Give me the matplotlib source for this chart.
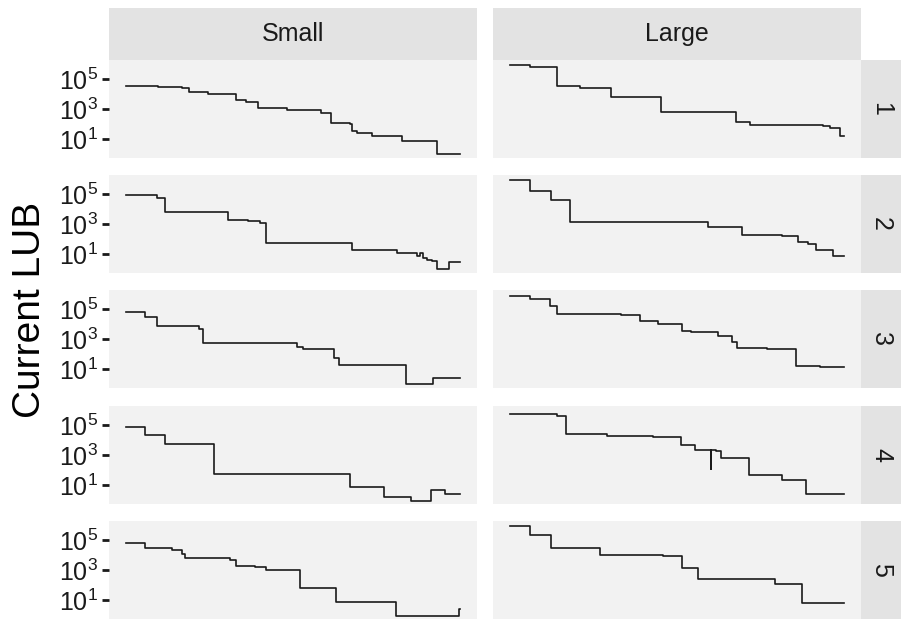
import numpy as np
import matplotlib
matplotlib.use('Agg')
import matplotlib.pyplot as plt

plt.rcParams['font.family'] = ['Liberation Sans', 'DejaVu Sans']
plt.rcParams['mathtext.default'] = 'regular'

# column / row facets
sizes = ["Small", "Large"]
runs = ["1", "2", "3", "4", "5"]

# step curves: x = progress (0..100), y = log10(current LUB)
small_1_x = [0, 9.5, 14, 16.8, 19, 24.5, 33, 36, 39.5, 48.2, 58.5, 61.3, 67, 67.5, 69, 73.5, 82.5, 93, 100]
small_1_y = [4.53, 4.49, 4.44, 4.37, 4.15, 3.99, 3.59, 3.44, 3.10, 2.92, 2.70, 2.09, 2.03, 1.51, 1.42, 1.20, 0.85, -0.03, -0.03]
large_1_x = [0, 6, 14, 21, 30.2, 45.2, 67.6, 71.8, 93.7, 95.7, 98.7, 100]
large_1_y = [5.94, 5.83, 4.53, 4.42, 3.82, 2.77, 2.12, 1.96, 1.85, 1.76, 1.22, 1.22]

small_2_x = [0, 9.2, 11.7, 30.5, 36.5, 40, 42, 67.5, 81.2, 87.2, 88, 89, 90, 91.5, 93, 96.5, 100]
small_2_y = [4.93, 4.75, 3.77, 3.30, 3.21, 3.10, 1.72, 1.27, 1.07, 0.85, 1.07, 0.76, 0.62, 0.53, -0.02, 0.49, 0.49]
large_2_x = [0, 6, 12.2, 18.1, 59.3, 69.5, 81.3, 86.2, 89.2, 91.4, 96.7, 100]
large_2_y = [5.94, 5.22, 4.60, 3.15, 2.77, 2.25, 2.21, 1.80, 1.69, 1.25, 0.84, 0.84]

small_3_x = [0, 5.8, 9.3, 22, 23, 51.3, 53, 62.3, 63.7, 83.7, 91.7, 100]
small_3_y = [4.82, 4.44, 3.88, 3.70, 2.70, 2.47, 2.32, 1.76, 1.25, -0.03, 0.42, 0.42]
large_3_x = [0, 6, 12, 14, 33.4, 38.9, 44.4, 51.5, 54.3, 62.3, 66.5, 68, 77, 85.7, 92.7, 100]
large_3_y = [5.89, 5.67, 5.22, 4.64, 4.60, 4.22, 3.97, 3.55, 3.48, 3.19, 2.77, 2.41, 2.36, 1.18, 1.14, 1.14]

small_4_x = [0, 5.8, 11.8, 26.3, 67, 77.2, 85.2, 91.2, 95.5, 100]
small_4_y = [4.89, 4.35, 3.75, 1.76, 0.89, 0.22, -0.05, 0.65, 0.42, 0.42]
large_4_x = [0, 14, 16.7, 29.1, 42.9, 51.1, 55.3, 60.3, 60.3, 61.8, 63.3, 71.5, 81.3, 88.5, 100]
large_4_y = [5.76, 5.60, 4.37, 4.28, 4.20, 3.70, 3.35, 2.09, 3.35, 3.26, 2.77, 1.65, 1.36, 0.40, 0.40]

small_5_x = [0, 5.8, 13.8, 16.8, 17.8, 31.2, 33, 38.5, 42, 45, 52.2, 62.8, 80.7, 99.5, 100]
small_5_y = [4.78, 4.49, 4.35, 4.04, 3.82, 3.66, 3.26, 3.19, 3.03, 2.97, 1.78, 0.87, -0.07, 0.42, 0.42]
large_5_x = [0, 6, 12.2, 26.9, 45.9, 51.6, 56.3, 79.3, 87.5, 100]
large_5_y = [5.94, 5.31, 4.49, 4.01, 3.95, 3.15, 2.41, 2.09, 0.80, 0.80]

curves = {
    ("Small", "1"): (small_1_x, small_1_y), ("Large", "1"): (large_1_x, large_1_y),
    ("Small", "2"): (small_2_x, small_2_y), ("Large", "2"): (large_2_x, large_2_y),
    ("Small", "3"): (small_3_x, small_3_y), ("Large", "3"): (large_3_x, large_3_y),
    ("Small", "4"): (small_4_x, small_4_y), ("Large", "4"): (large_4_x, large_4_y),
    ("Small", "5"): (small_5_x, small_5_y), ("Large", "5"): (large_5_x, large_5_y),
}

W, H = 901, 619
fig = plt.figure(figsize=(W / 100, H / 100), dpi=100)

panel_bg = '#F2F2F2'
strip_bg = '#E3E3E3'
col_left = [109, 493]
col_w = 368
row_top = [60, 175, 290, 406, 521]
row_h = 98


def px_axes(x, y, w, h):
    # pixel box (top-left origin) -> figure axes
    return fig.add_axes([x / W, 1 - (y + h) / H, w / W, h / H])


for j, size in enumerate(sizes):
    # top strip
    sa = px_axes(col_left[j], 8, col_w, 52)
    sa.set_facecolor(strip_bg)
    sa.set_xticks([]); sa.set_yticks([])
    for s in sa.spines.values():
        s.set_visible(False)
    sa.text(0.5, 0.5, size, ha='center', va='center', fontsize=18, color='#1A1A1A',
            transform=sa.transAxes)

    for i, run in enumerate(runs):
        ax = px_axes(col_left[j], row_top[i], col_w, row_h)
        ax.set_facecolor(panel_bg)
        x, y = curves[(size, run)]
        ax.step(x, np.power(10.0, y), where='post', color='#1A1A1A', lw=1.2)
        ax.set_yscale('log')
        ax.set_ylim(10 ** -0.27, 10 ** 6.27)
        ax.set_xlim(-5, 105)
        ax.set_xticks([])
        ax.minorticks_off()
        for s in ax.spines.values():
            s.set_visible(False)
        if j == 0:
            ax.set_yticks([1e1, 1e3, 1e5])
            ax.tick_params(axis='y', length=5, width=2, color='#1A1A1A',
                           labelsize=18, pad=3, labelcolor='#1A1A1A')
        else:
            ax.set_yticks([])

for i, run in enumerate(runs):
    ra = px_axes(861, row_top[i], 40, row_h)
    ra.set_facecolor(strip_bg)
    ra.set_xticks([]); ra.set_yticks([])
    for s in ra.spines.values():
        s.set_visible(False)
    ra.text(0.5, 0.5, run, ha='center', va='center', fontsize=18, rotation=-90,
            color='#1A1A1A', transform=ra.transAxes)

fig.text(30 / W, 1 - 310 / H, "Current LUB", rotation=90, ha='center', va='center',
         fontsize=28, color='black')

fig.savefig('out.png', dpi=100)
